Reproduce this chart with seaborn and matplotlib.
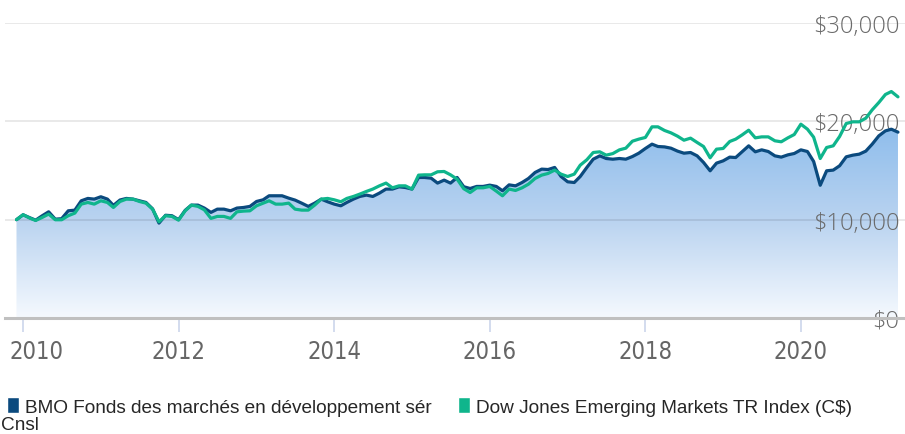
import matplotlib
matplotlib.use("Agg")
import matplotlib.pyplot as plt
import matplotlib.dates as mdates
from matplotlib.patches import Patch
from matplotlib.colors import LinearSegmentedColormap
from matplotlib.ticker import StrMethodFormatter
from matplotlib.transforms import ScaledTranslation
import seaborn as sns
import pandas as pd
import numpy as np

# valeur de 10 000 $ investis, mensuel, déc. 2009 -> avr. 2021
fund_name = "BMO Fonds des marchés en développement sér Cnsl"
index_name = "Dow Jones Emerging Markets TR Index (C$)"
start_month = "2009-12-01"

fund_values = [
    10000, 10500, 10200, 9950, 10400, 10800, 10050, 10100, 10900, 10970, 11920, 12160,
    12090, 12330, 12090, 11450, 12000, 12160, 12090, 11920, 11750, 11100, 9650, 10450,
    10400, 10000, 10950, 11480, 11480, 11180, 10740, 11070, 11070, 10900, 11180, 11240,
    11350, 11850, 12020, 12430, 12430, 12430, 12190, 11990, 11680, 11350, 11680, 12090,
    11820, 11580, 11410, 11750, 12090, 12360, 12500, 12360, 12700, 13110, 13110, 13340,
    13270, 13110, 14290, 14290, 14220, 13720, 14020, 13720, 14290, 13350, 13170, 13380,
    13380, 13510, 13380, 12940, 13540, 13440, 13780, 14190, 14800, 15140, 15100, 15310,
    14390, 13850, 13780, 14390, 15310, 16150, 16490, 16220, 16150, 16220, 16150, 16420,
    16760, 17240, 17680, 17440, 17400, 17270, 16970, 16760, 16830, 16490, 15820, 14970,
    15750, 15980, 16360, 16320, 16930, 17510, 16900, 17100, 16930, 16490, 16360, 16590,
    16730, 17100, 16930, 15920, 13500, 14970, 15040, 15480, 16390, 16560, 16660, 16970,
    17680, 18520, 19030, 19200, 18900,
]
index_values = [
    10000, 10500, 10160, 9920, 10230, 10570, 9990, 9990, 10400, 10670, 11580, 11750,
    11580, 11920, 11750, 11240, 11850, 12090, 12090, 11850, 11680, 11070, 9790, 10400,
    10330, 9950, 10900, 11480, 11350, 11000, 10130, 10330, 10330, 10130, 10800, 10870,
    10900, 11410, 11680, 11920, 11580, 11580, 11680, 11070, 10970, 10970, 11480, 12090,
    12160, 12020, 11820, 12160, 12360, 12600, 12870, 13110, 13440, 13720, 13240, 13440,
    13440, 13110, 14530, 14560, 14560, 14870, 14900, 14560, 14120, 13150, 12760, 13240,
    13240, 13380, 12900, 12430, 13110, 12970, 13240, 13610, 14190, 14530, 14700, 15040,
    14630, 14390, 14630, 15540, 16090, 16830, 16900, 16560, 16720, 17100, 17270, 17980,
    18190, 18360, 19440, 19440, 19070, 18830, 18490, 18080, 18290, 17850, 17440, 16290,
    17170, 17240, 17950, 18190, 18630, 19100, 18320, 18420, 18420, 18020, 17920, 18320,
    18660, 19710, 19200, 18390, 16220, 17340, 17510, 18460, 19780, 19950, 19950, 20320,
    21170, 21910, 22730, 23030, 22490,
]
y_ticks = [0, 10000, 20000, 30000]
x_tick_years = [2010, 2012, 2014, 2016, 2018, 2020]

fund_color = "#0b4a7e"
index_color = "#0fb58c"

dates = pd.date_range(start_month, periods=len(fund_values), freq="MS")
df = pd.DataFrame({"date": dates, fund_name: fund_values, index_name: index_values})
long_df = df.melt(id_vars="date", var_name="serie", value_name="valeur")

sns.set_style("white")
plt.rcParams["font.family"] = ["Liberation Sans", "DejaVu Sans"]

fig = plt.figure(figsize=(9.05, 4.35), dpi=100)
ax = fig.add_axes([5 / 905, 116 / 435, 900 / 905, 295 / 435])

x_min = pd.Timestamp("2009-10-08")
x_max = pd.Timestamp("2021-05-04")

# remplissage en dégradé sous la courbe du fonds
area = ax.fill_between(df["date"], df[fund_name], 0, color="none", lw=0)
grad = np.linspace(0, 1, 256).reshape(-1, 1)
cmap = LinearSegmentedColormap.from_list(
    "bleu", ["#f5f9fe", "#b9d3f0", "#8cbcec", "#6fa9e8"])
im = ax.imshow(grad, extent=[mdates.date2num(x_min), mdates.date2num(x_max), 0, 30000],
               origin="lower", aspect="auto", cmap=cmap, zorder=1)
im.set_clip_path(area.get_paths()[0], transform=ax.transData)

sns.lineplot(data=long_df, x="date", y="valeur", hue="serie",
             hue_order=[fund_name, index_name],
             palette={fund_name: fund_color, index_name: index_color},
             linewidth=2.3, legend=False, ax=ax, zorder=3)

ax.set_xlim(x_min, x_max)
ax.set_ylim(0, 30000)
ax.set_xlabel("")
ax.set_ylabel("")

ax.set_axisbelow("line")
ax.grid(axis="y", color="black", alpha=0.1, lw=1.2)
ax.grid(axis="x", visible=False)
for s in ["top", "left", "right"]:
    ax.spines[s].set_visible(False)
ax.spines["bottom"].set_color("#c0c0c0")
ax.spines["bottom"].set_linewidth(2.2)

ax.set_yticks(y_ticks)
ax.yaxis.set_major_formatter(StrMethodFormatter("${x:,.0f}"))
ax.yaxis.tick_right()
ax.tick_params(axis="y", length=0, pad=-4, labelsize=17, labelcolor="#6a6a6a")
for lab in ax.get_yticklabels():
    lab.set_horizontalalignment("right")
    lab.set_family(["Open Sans", "DejaVu Sans"])
    lab.set_fontweight("light")

ax.set_xticks([pd.Timestamp(f"{y}-01-01") for y in x_tick_years])
ax.xaxis.set_major_formatter(mdates.DateFormatter("%Y"))
ax.tick_params(axis="x", bottom=True, direction="out", length=10, width=1.2,
               color="#ccd6eb", pad=5, labelsize=17, labelcolor="#666666")
for lab in ax.get_xticklabels():
    lab.set_family(["DejaVu Sans"])
    lab.set_fontstretch("condensed")
first = ax.get_xticklabels()[0]
first.set_horizontalalignment("left")
first.set_transform(first.get_transform() + ScaledTranslation(-0.14, 0, fig.dpi_scale_trans))

# légende en bas
fund_line1, fund_line2 = fund_name.rsplit(" ", 1)
handles = [Patch(facecolor=fund_color), Patch(facecolor=index_color)]
fig.legend(handles, [fund_line1, index_name], loc="upper left",
           bbox_to_anchor=(7 / 905, 1 - 398 / 435), ncol=2, frameon=False,
           borderaxespad=0, borderpad=0, fontsize=13.7, handlelength=0.65,
           handleheight=0.95, handletextpad=0.3, columnspacing=1.35)
fig.text(1 / 905, 1 - 430 / 435, fund_line2, va="baseline", ha="left", fontsize=13.7)

fig.savefig("out.png", dpi=100)
